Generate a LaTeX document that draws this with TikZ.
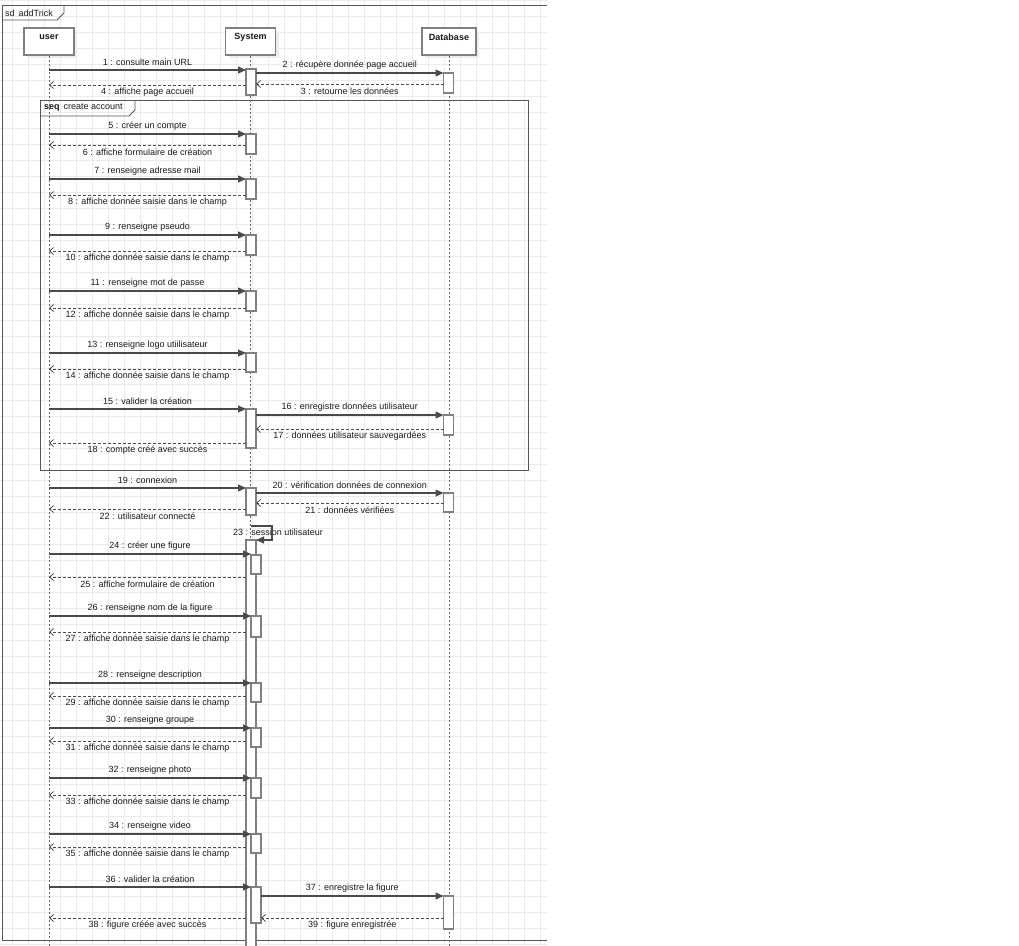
\documentclass[tikz,border=0pt]{standalone}
\usepackage{fontspec}
\setmainfont{Liberation Sans}
\usetikzlibrary{arrows.meta,shadows}
\definecolor{gridc}{HTML}{EBEBEB}
\definecolor{framec}{HTML}{555555}
\definecolor{barc}{HTML}{808080}
\definecolor{msgc}{HTML}{4A4A4A}
\definecolor{txtc}{HTML}{1A1A1A}
\definecolor{shadowc}{HTML}{EDEDED}
\newcommand{\callm}[5]{\draw[callline] (#2,#1) -- (#3,#1) node[lbl,midway,yshift=7.5pt] (#5) {#4};}
\newcommand{\retm}[5]{\draw[retline] (#2,#1) -- (#3,#1) node[lbl,midway,yshift=-7pt] (#5) {#4};}
\newcommand{\actb}[4]{\draw[actbar] (#1,#2) rectangle (#3,#4);}
\begin{document}
\begin{tikzpicture}[x=1pt,y=-1pt,
  gridline/.style={gridc, line width=0.8pt},
  frameline/.style={framec, line width=0.9pt},
  lifeline/.style={draw=barc!80!black, line width=0.8pt, dash pattern=on 2pt off 2pt},
  actbar/.style={draw=barc, fill=white, line width=1.1pt},
  callline/.style={msgc, line width=1.1pt, -{Triangle[length=8pt,width=7pt]}},
  retline/.style={msgc, line width=0.8pt, dash pattern=on 3pt off 2pt, -{Straight Barb[length=4pt,width=7pt]}},
  lbl/.style={font=\fontsize{9}{10}\selectfont, text=txtc, inner sep=0pt},
  actor/.style={draw=barc, fill=white, line width=1.1pt, minimum width=50pt, minimum height=27pt, inner sep=0pt,
    drop shadow={shadow xshift=3pt, shadow yshift=-3pt, fill=shadowc, opacity=1}},
  actlbl/.style={font=\bfseries\fontsize{9}{10}\selectfont, text=txtc, inner sep=0pt}
]
\useasboundingbox (0,0) rectangle (1019,945);
\fill[white] (0,0) rectangle (1019,945);
\clip (0,0) rectangle (1019,945);
% grid
\foreach \gx in {12,28,...,540} \draw[gridline] (\gx,0) -- (\gx,945);
\foreach \gy in {0,16,...,944} \draw[gridline] (0,\gy) -- (547,\gy);
% outer frame
\draw[frameline] (547,5) -- (2,5) -- (2,940) -- (547,940);
\draw[frameline] (2,20) -- (57,20) -- (64,13) -- (64,5);
\node[lbl, anchor=west] (sdlbl) at (5,13) {sd\hspace{4pt}addTrick};
% seq frame
\draw[frameline] (40,100) rectangle (528,470);
\draw[frameline] (40,116) -- (129,116) -- (135,110) -- (135,100);
\node[lbl, anchor=west] (seqlbl) at (44,108) {\textbf{seq}\hspace{4pt}create account};
% actors
\node[actor] (user) at (49,41.5) {};
\node[actor] (system) at (250.5,41.5) {};
\node[actor, minimum width=54pt] (db) at (449,41.5) {};
\node[actlbl] (userlbl) at (49,37) {user};
\node[actlbl] (systemlbl) at (250.5,37) {System};
\node[actlbl] (dblbl) at (449,37) {Database};
% lifelines
\draw[lifeline] (user.south) -- (user.south |- 0,950);
\draw[lifeline] (system.south) -- (system.south |- 0,950);
\draw[lifeline] (db.south) -- (db.south |- 0,950);
% activation bars
\actb{246}{69}{256}{95}
\actb{443.5}{73}{453.5}{93}
\actb{246}{134}{256}{154}
\actb{246}{179}{256}{199}
\actb{246}{235}{256}{255}
\actb{246}{291}{256}{311}
\actb{246}{353}{256}{372}
\actb{246}{409}{256}{448}
\actb{443.5}{415}{453.5}{435}
\actb{246}{488}{256}{515}
\actb{443.5}{493}{453.5}{512}
\actb{246}{540}{256}{960}
\actb{251}{555}{261}{574}
\actb{251}{616}{261}{637}
\actb{251}{683}{261}{702}
\actb{251}{728}{261}{747}
\actb{251}{778}{261}{798}
\actb{251}{834}{261}{853}
\actb{251}{887}{261}{923}
\actb{443.5}{896}{453.5}{929}
% messages
\callm{70}{49}{246}{1 : consulte main URL}{m1}
\callm{73}{256}{443.5}{2 : récupère donnée page accueil}{m2}
\retm{84}{443.5}{256}{3 : retourne les données}{m3}
\retm{85}{246}{49}{4 : affiche page accueil}{m4}
\callm{134}{49}{246}{5 : créer un compte}{m5}
\retm{145}{246}{49}{6 : affiche formulaire de création}{m6}
\callm{179}{49}{246}{7 : renseigne adresse mail}{m7}
\retm{195}{246}{49}{8 : affiche donnée saisie dans le champ}{m8}
\callm{235}{49}{246}{9 : renseigne pseudo}{m9}
\retm{251}{246}{49}{10 : affiche donnée saisie dans le champ}{m10}
\callm{291}{49}{246}{11 : renseigne mot de passe}{m11}
\retm{308}{246}{49}{12 : affiche donnée saisie dans le champ}{m12}
\callm{353}{49}{246}{13 : renseigne logo utiilisateur}{m13}
\retm{369}{246}{49}{14 : affiche donnée saisie dans le champ}{m14}
\callm{409}{49}{246}{15 : valider la création}{m15}
\callm{415}{256}{443.5}{16 : enregistre données utilisateur}{m16}
\retm{429}{443.5}{256}{17 : données utilisateur sauvegardées}{m17}
\retm{443}{246}{49}{18 : compte créé avec succès}{m18}
\callm{488}{49}{246}{19 : connexion}{m19}
\callm{493}{256}{443.5}{20 : vérification données de connexion}{m20}
\retm{503}{443.5}{256}{21 : données vérifiées}{m21}
\retm{509}{246}{49}{22 : utilisateur connecté}{m22}
% self message
\node[lbl] (m23) at (278,532) {23 : session utilisateur};
\draw[callline] (251,526) -- (272,526) -- (272,540) -- (256,540);
\callm{554}{49}{251}{24 : créer une figure}{m24}
\retm{577}{246}{49}{25 : affiche formulaire de création}{m25}
\callm{616}{49}{251}{26 : renseigne nom de la figure}{m26}
\retm{632}{246}{49}{27 : affiche donnée saisie dans le champ}{m27}
\callm{683}{49}{251}{28 : renseigne description}{m28}
\retm{696}{246}{49}{29 : affiche donnée saisie dans le champ}{m29}
\callm{728}{49}{251}{30 : renseigne groupe}{m30}
\retm{741}{246}{49}{31 : affiche donnée saisie dans le champ}{m31}
\callm{778}{49}{251}{32 : renseigne photo}{m32}
\retm{795}{246}{49}{33 : affiche donnée saisie dans le champ}{m33}
\callm{834}{49}{251}{34 : renseigne video}{m34}
\retm{847}{246}{49}{35 : affiche donnée saisie dans le champ}{m35}
\callm{887}{49}{251}{36 : valider la création}{m36}
\callm{896}{261}{443.5}{37 : enregistre la figure}{m37}
\retm{918}{246}{49}{38 : figure créée avec succès}{m38}
\retm{918}{443.5}{261}{39 : figure enregistrée}{m39}
\end{tikzpicture}
\end{document}
